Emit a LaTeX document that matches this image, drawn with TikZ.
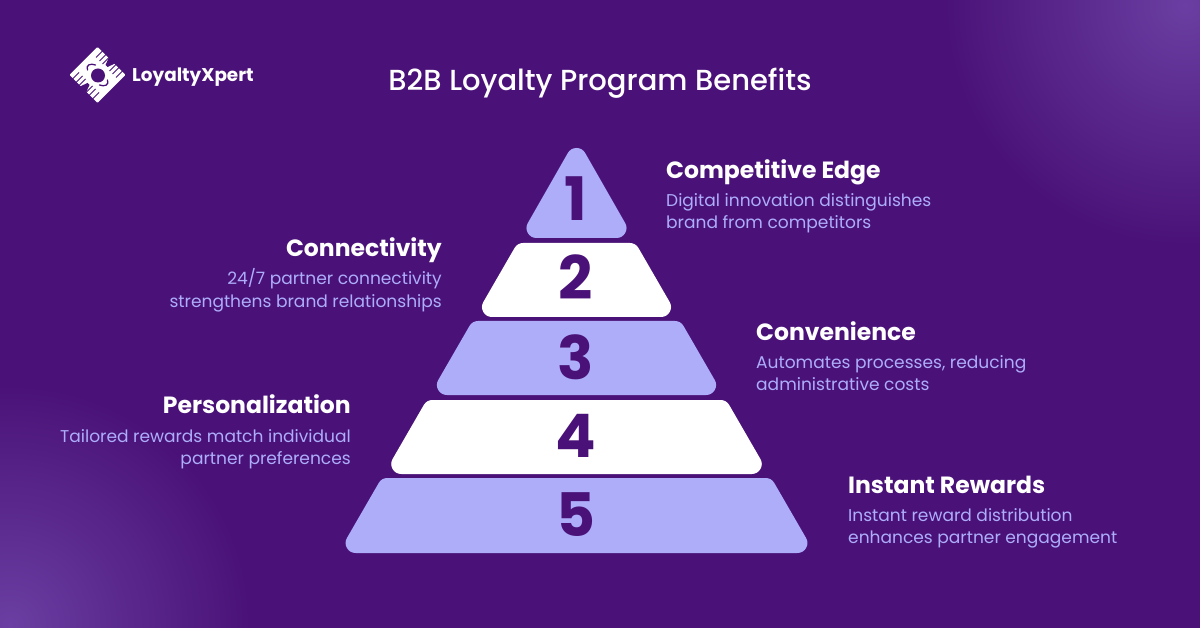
\documentclass[tikz,border=0pt]{standalone}
\usepackage{fontspec}
\setmainfont{Poppins}
\newfontfamily\titlefont{Poppins Medium}
\definecolor{bgpurple}{HTML}{4A1278}
\definecolor{glowpurple}{HTML}{6A3EA2}
\definecolor{tierblue}{HTML}{ADADFA}
\pgfdeclareradialshading{cornerglow}{\pgfpoint{0bp}{0bp}}{color(0bp)=(glowpurple); color(25bp)=(bgpurple); color(50bp)=(bgpurple)}
\tikzset{
	tier/.style={line width=20pt,line join=round},
	tiernum/.style={font=\fontsize{60}{60}\selectfont\bfseries,text=bgpurple,anchor=base,inner sep=0pt},
	head/.style={font=\fontsize{23.5}{23.5}\selectfont\bfseries,text=white,inner sep=0pt},
	desc/.style={font=\fontsize{17.05}{17.05}\selectfont,text=tierblue,inner sep=0pt}
}
\begin{document}
\begin{tikzpicture}[x=1pt,y=-1pt,line join=round,line cap=round]
	\useasboundingbox (0,0) rectangle (1200,628);
	\fill[bgpurple] (0,0) rectangle (1200,628);
	\begin{scope}
		\clip (0,0) rectangle (1200,628);
		\shade[shading=cornerglow] (1185,5) circle (240);
		\shade[shading=cornerglow] (10,625) circle (240);
	\end{scope}
	% logo
	\begin{scope}[shift={(97.5,75)}]
		\fill[white,rounded corners=1pt] (0,-28)--(28,0)--(0,28)--(-28,0)--cycle;
		\foreach \a in {0,180}{
			\begin{scope}[rotate=\a]
				\foreach \x in {4.5,8,11,18,21,24.5}{
					\draw[bgpurple,line width=1pt,line cap=butt] ({\x+.5},{\x-28.5})--({\x-6},{\x-22});
				}
				\fill[bgpurple] (11.5,-17.5)--(17.5,-11.5)--(10,-8)--(8,-10)--cycle;
				\draw[bgpurple,line width=1.3pt] (-10,-5) .. controls (-12,-10) and (-7,-12) .. (-2,-10);
			\end{scope}
		}
		\fill[bgpurple] (0.5,0.5) circle (7);
	\end{scope}
	\node[font=\fontsize{18.4}{18.4}\selectfont\bfseries,text=white,anchor=base west,inner sep=0pt] (logotext) at (132,81.5) {LoyaltyXpert};
	\node[font=\fontsize{29}{29}\titlefont,text=white,anchor=base,inner sep=0pt] (title) at (600,91) {B2B Loyalty Program Benefits};
	% tiers
	\foreach \t/\b/\c in {243/317/white,321/395/tierblue,400/474/white,478/553/tierblue}{
		\path[tier,fill=\c,draw=\c] ({576.5-(84.5+(\t+10-307)*0.578)},\t+10)--({576.5+(84.5+(\t+10-307)*0.578)},\t+10)--({576.5+(84.5+(\b-10-307)*0.578)},\b-10)--({576.5-(84.5+(\b-10-307)*0.578)},\b-10)--cycle;
	}
	\path[tier,fill=tierblue,draw=tierblue] (576.5,158)--(616.5,228)--(536.5,228)--cycle;
	\foreach \n/\y in {1/221,2/300,3/380,4/457,5/536}{
		\node[tiernum] (num\n) at (576,\y) {\n};
	}
	% labels
	\node[head,anchor=base west] (edge) at (666,179) {Competitive Edge};
	\node[desc,anchor=base west] (edgea) at (666,207) {Digital innovation distinguishes};
	\node[desc,anchor=base west] (edgeb) at (666,229) {brand from competitors};
	\node[head,anchor=base east] (conn) at (442,257) {Connectivity};
	\node[desc,anchor=base east] (conna) at (442,285) {24/7 partner connectivity};
	\node[desc,anchor=base east] (connb) at (442,308) {strengthens brand relationships};
	\node[head,anchor=base west] (conv) at (756,341) {Convenience};
	\node[desc,anchor=base west] (conva) at (756,369) {Automates processes, reducing};
	\node[desc,anchor=base west] (convb) at (756,390) {administrative costs};
	\node[head,anchor=base east] (pers) at (351,413.5) {Personalization};
	\node[desc,anchor=base east] (persa) at (351,442) {Tailored rewards match individual};
	\node[desc,anchor=base east] (persb) at (351,464) {partner preferences};
	\node[head,anchor=base west] (inst) at (848,493) {Instant Rewards};
	\node[desc,anchor=base west] (insta) at (848,521) {Instant reward distribution};
	\node[desc,anchor=base west] (instb) at (848,543) {enhances partner engagement};
\end{tikzpicture}
\end{document}
